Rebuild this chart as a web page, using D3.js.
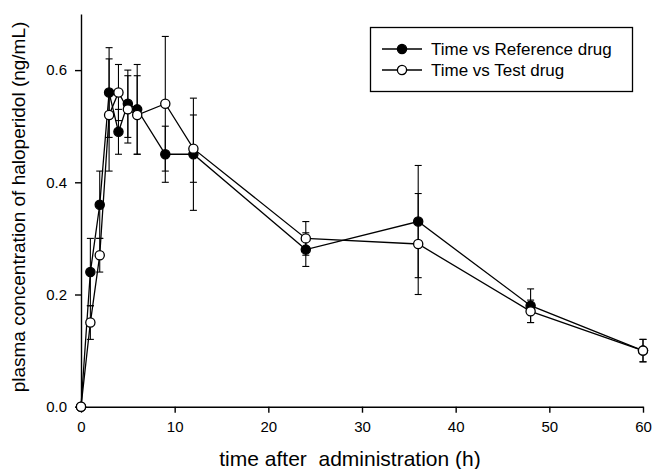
<!DOCTYPE html>
<html>
<head>
<meta charset="utf-8">
<script src="https://cdn.jsdelivr.net/npm/d3@7"></script>
<style>
  body { margin: 0; background: #fff; }
  svg { display: block; }
  text { font-family: "Liberation Sans", Arial, sans-serif; fill: #000; }
</style>
</head>
<body>
<svg id="chart" width="654" height="469"></svg>
<script>
// data (h, ng/mL)
var times = [0, 1, 2, 3, 4, 5, 6, 9, 12, 24, 36, 48, 60];
var refMean = [0, 0.24, 0.36, 0.56, 0.49, 0.54, 0.53, 0.45, 0.45, 0.28, 0.33, 0.18, 0.10];
var refSD   = [0, 0.06, 0.06, 0.08, 0.04, 0.06, 0.08, 0.05, 0.10, 0.03, 0.10, 0.03, 0.02];
var testMean = [0, 0.15, 0.27, 0.52, 0.56, 0.53, 0.52, 0.54, 0.46, 0.30, 0.29, 0.17, 0.10];
var testSD   = [0, 0.03, 0.03, 0.10, 0.05, 0.06, 0.07, 0.12, 0.06, 0.03, 0.09, 0.02, 0.02];
var xTicks = [0, 10, 20, 30, 40, 50, 60];
var yTicks = [0, 0.2, 0.4, 0.6];
var seriesNames = ["Time vs Reference drug", "Time vs Test drug"];

var svg = d3.select("#chart");

var x = d3.scaleLinear().domain([0, 60]).range([81, 643]);
var y = d3.scaleLinear().domain([0, 0.7]).range([406.7, 14]);

// axes
svg.append("g")
  .attr("transform", "translate(0," + y(0) + ")")
  .call(d3.axisBottom(x).tickValues(xTicks).tickSize(6).tickSizeOuter(0).tickPadding(9))
  .call(g => g.selectAll("text").style("font-size", "15px"));

svg.append("g")
  .attr("transform", "translate(" + x(0) + ",0)")
  .call(d3.axisLeft(y).tickValues(yTicks).tickSize(6).tickSizeOuter(0).tickPadding(8)
    .tickFormat(d3.format(".1f")))
  .call(g => g.selectAll("text").style("font-size", "15px"));

svg.selectAll(".domain, .tick line").attr("stroke", "#000").attr("stroke-width", 1.4);

// axis titles
svg.append("text")
  .attr("x", 350).attr("y", 466)
  .attr("text-anchor", "middle")
  .style("font-size", "21px")
  .style("white-space", "pre")
  .text("time after  administration (h)");

svg.append("text")
  .attr("transform", "translate(18,207) rotate(-90)")
  .attr("text-anchor", "middle")
  .attr("dominant-baseline", "central")
  .style("font-size", "19px")
  .text("plasma concentration of haloperidol (ng/mL)");

var series = [
  { mean: refMean, sd: refSD, fill: "#000" },
  { mean: testMean, sd: testSD, fill: "#fff" }
];

var line = d3.line()
  .x(d => x(d.t))
  .y(d => y(d.v));

series.forEach(function(s) {
  var pts = times.map((t, i) => ({ t: t, v: s.mean[i], sd: s.sd[i] }));
  s.pts = pts;

  svg.append("path")
    .datum(pts)
    .attr("d", line)
    .attr("fill", "none")
    .attr("stroke", "#000")
    .attr("stroke-width", 1.3);

  var eb = svg.append("g").selectAll("g")
    .data(pts.filter(d => d.sd > 0))
    .enter().append("g");
  eb.append("line")
    .attr("x1", d => x(d.t)).attr("x2", d => x(d.t))
    .attr("y1", d => y(d.v - d.sd)).attr("y2", d => y(d.v + d.sd));
  eb.append("line")
    .attr("x1", d => x(d.t) - 3.5).attr("x2", d => x(d.t) + 3.5)
    .attr("y1", d => y(d.v + d.sd)).attr("y2", d => y(d.v + d.sd));
  eb.append("line")
    .attr("x1", d => x(d.t) - 3.5).attr("x2", d => x(d.t) + 3.5)
    .attr("y1", d => y(d.v - d.sd)).attr("y2", d => y(d.v - d.sd));
  eb.selectAll("line").attr("stroke", "#000").attr("stroke-width", 1.1);
});

// markers on top, open circles last
series.forEach(function(s) {
  svg.append("g").selectAll("circle")
    .data(s.pts)
    .enter().append("circle")
    .attr("cx", d => x(d.t))
    .attr("cy", d => y(d.v))
    .attr("r", 4.6)
    .attr("fill", s.fill)
    .attr("stroke", "#000")
    .attr("stroke-width", 1.3);
});

// legend
var lg = svg.append("g");
lg.append("rect")
  .attr("x", 370.5).attr("y", 27.5)
  .attr("width", 262).attr("height", 64)
  .attr("fill", "#fff").attr("stroke", "#000").attr("stroke-width", 1.3);

var rows = lg.selectAll(".row")
  .data(seriesNames)
  .enter().append("g")
  .attr("transform", (d, i) => "translate(0," + (49 + i * 21) + ")");
rows.append("line")
  .attr("x1", 382).attr("x2", 422)
  .attr("stroke", "#000").attr("stroke-width", 1.3);
rows.append("circle")
  .attr("cx", 402).attr("r", 4.6)
  .attr("fill", (d, i) => series[i].fill)
  .attr("stroke", "#000").attr("stroke-width", 1.3);
rows.append("text")
  .attr("x", 431)
  .attr("dominant-baseline", "central")
  .style("font-size", "17px")
  .text(d => d);
</script>
</body>
</html>
